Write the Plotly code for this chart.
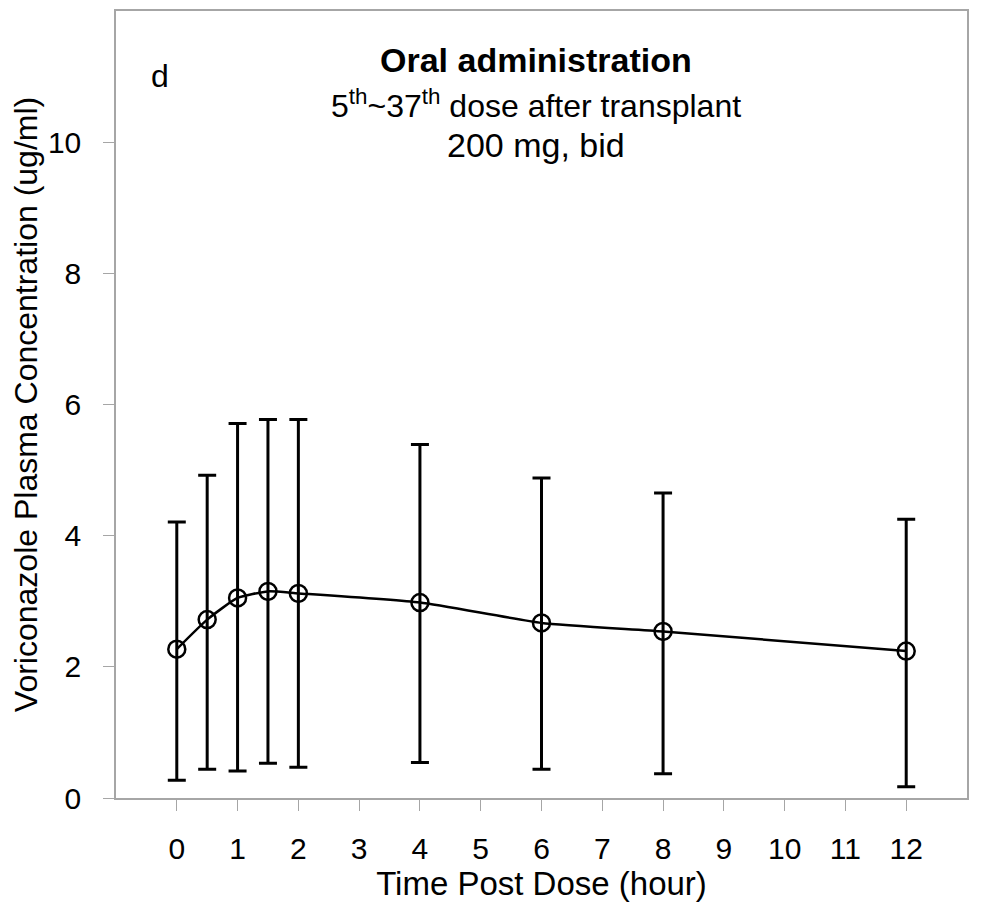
import plotly.graph_objects as go

time_h = [0, 0.5, 1, 1.5, 2, 4, 6, 8, 12]
mean_conc = [2.27, 2.72, 3.05, 3.15, 3.12, 2.98, 2.67, 2.54, 2.24]
upper_conc = [4.21, 4.92, 5.71, 5.77, 5.77, 5.39, 4.88, 4.65, 4.25]
lower_conc = [0.27, 0.44, 0.41, 0.53, 0.47, 0.54, 0.44, 0.37, 0.17]
x_ticks = list(range(0, 13))
y_ticks = [0, 2, 4, 6, 8, 10]

err_plus = [u - m for u, m in zip(upper_conc, mean_conc)]
err_minus = [m - l for m, l in zip(mean_conc, lower_conc)]

FONT = "Liberation Sans, Arial, sans-serif"
AXIS_GRAY = "#a6a6a6"

# The page body adds an 8px margin, so the figure is sized/placed to compensate.
OFF = 8
W, H = 982 - OFF, 912 - OFF
plot_left, plot_top, plot_right, plot_bottom = 116 - OFF, 9 - OFF, 967 - OFF, 798 - OFF

fig = go.Figure()
fig.add_trace(go.Scatter(
    x=time_h, y=mean_conc,
    mode="lines+markers",
    line=dict(color="black", width=2.5, shape="spline", smoothing=0.5),
    marker=dict(symbol="circle-open", size=17, color="black", line=dict(width=2.5)),
    error_y=dict(type="data", symmetric=False, array=err_plus, arrayminus=err_minus,
                 color="black", thickness=3, width=9),
    showlegend=False,
))

def px(pix):
    return (pix - OFF - plot_left) / (plot_right - plot_left)
def py(pix):
    return (plot_bottom - (pix - OFF)) / (plot_bottom - plot_top)

fig.update_layout(
    width=W, height=H,
    margin=dict(l=plot_left, r=W - plot_right, t=plot_top, b=H - plot_bottom),
    paper_bgcolor="white", plot_bgcolor="white",
    font=dict(family=FONT, size=30, color="black"),
    xaxis=dict(
        range=[-1, 13], tickvals=x_ticks, ticktext=[str(t) for t in x_ticks],
        showgrid=False, zeroline=False, showline=True, linecolor=AXIS_GRAY, linewidth=1.5,
        mirror=True, ticks="outside", ticklen=11, tickcolor=AXIS_GRAY, tickwidth=1.2,
        ticklabelstandoff=12, tickfont=dict(size=30),
        title=dict(text="Time Post Dose (hour)", font=dict(size=33), standoff=7),
    ),
    yaxis=dict(
        range=[0, 12], tickvals=y_ticks, ticktext=[str(t) for t in y_ticks],
        showgrid=False, zeroline=False, showline=True, linecolor=AXIS_GRAY, linewidth=1.5,
        mirror=True, ticks="outside", ticklen=11, tickcolor=AXIS_GRAY, tickwidth=1.2,
        ticklabelstandoff=16, tickfont=dict(size=30),
        title=dict(text="Voriconazole Plasma Concentration (ug/ml)", font=dict(size=32), standoff=8),
    ),
    annotations=[
        dict(text="d", x=px(149), y=py(74), xref="paper", yref="paper", showarrow=False,
             font=dict(size=32), xanchor="left", yanchor="middle"),
        dict(text="<b>Oral administration</b>", x=px(536), y=py(58), xref="paper", yref="paper",
             showarrow=False, font=dict(size=34), yanchor="middle"),
        dict(text="5<sup>th</sup>~37<sup>th</sup> dose after transplant", x=px(536), y=py(102),
             xref="paper", yref="paper", showarrow=False, font=dict(size=32), yanchor="middle"),
        dict(text="200 mg, bid", x=px(536), y=py(143), xref="paper", yref="paper", showarrow=False,
             font=dict(size=34), yanchor="middle"),
    ],
)

fig.write_html("out.html")
